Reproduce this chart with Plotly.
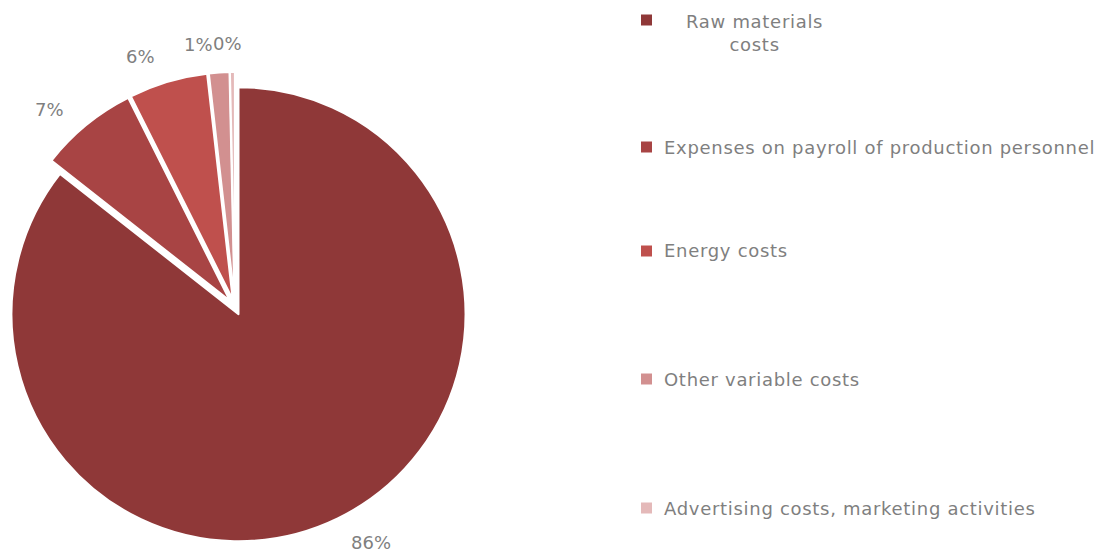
import math
import plotly.graph_objects as go

# ---- data ----
categories = [
    "Raw materials costs",
    "Expenses on payroll of production personnel",
    "Energy costs",
    "Other variable costs",
    "Advertising costs, marketing activities",
]
legend_labels = [
    "Raw materials<br>costs",
    "Expenses on payroll of production personnel",
    "Energy costs",
    "Other variable costs",
    "Advertising costs, marketing activities",
]
shares = [85.6, 7.0, 5.6, 1.45, 0.35]
colors = ["#8F3838", "#A84444", "#BF504D", "#D29090", "#E4B9B9"]

# ---- layout constants ----
W, H = 1111, 558
TEXT_GRAY = "#7f7f7f"
FONT = "DejaVu Sans"
LABEL_SIZE = 18
LEGEND_SIZE = 18
LABEL_GAP = 18            # distance between slice edge and label box
LABEL_ANGLE_SHIFT = -4.0  # degrees, labels sit slightly counter-clockwise


def px_x(x):
    return x / W


def px_y(y):
    return 1 - y / H


# pie box (pixels)
r = 227
explode = 8
pull = explode / r
box = 2 * r * (1 + pull)
cx, cy = box / 2, 307

fig = go.Figure(
    go.Pie(
        labels=categories,
        values=shares,
        sort=False,
        direction="clockwise",
        rotation=0,
        pull=[pull] * len(shares),
        marker=dict(colors=colors, line=dict(color="white", width=2)),
        textinfo="none",
        domain=dict(
            x=[px_x(cx - box / 2), px_x(cx + box / 2)],
            y=[px_y(cy + box / 2), px_y(cy - box / 2)],
        ),
        showlegend=False,
        hoverinfo="label+percent",
    )
)

annotations = []
shapes = []

# ---- percentage labels outside the slices (from the data) ----
total = sum(shares)
labels = []
cum = 0.0
for v in shares:
    mid = (cum + v / 2) / total * 2 * math.pi + math.radians(LABEL_ANGLE_SHIFT)
    cum += v
    txt = f"{round(v / total * 100):.0f}%"
    hw = (11.45 * (len(txt) - 1) + 17.1) / 2
    hh = 10.5
    s, c = math.sin(mid), math.cos(mid)
    dist = r + explode + LABEL_GAP + abs(hw * s) + abs(hh * c)
    labels.append([cx + dist * s, cy - dist * c, 2 * hw, txt])
# keep neighbouring small labels from overlapping
for i in range(1, len(labels)):
    a, b = labels[i - 1], labels[i]
    if abs(a[1] - b[1]) < 20 and a[0] + a[2] / 2 > b[0] - b[2] / 2:
        b[0] = a[0] + a[2] / 2 + b[2] / 2
for x, y, w, txt in labels:
    annotations.append(dict(
        text=txt, xref="paper", yref="paper", x=px_x(x), y=px_y(y),
        xanchor="center", yanchor="middle", showarrow=False,
        font=dict(family=FONT, size=LABEL_SIZE, color=TEXT_GRAY),
    ))

# ---- custom legend (items spread like the original) ----
legend_centers = [20, 147, 251, 379, 508]
for i, (lab, col) in enumerate(zip(legend_labels, colors)):
    yc = legend_centers[i]
    shapes.append(dict(
        type="rect", xref="paper", yref="paper",
        x0=px_x(641), x1=px_x(652), y0=px_y(yc + 5.5), y1=px_y(yc - 5.5),
        fillcolor=col, line=dict(width=0),
    ))
    styled = "<br>".join(
        f"<span style='letter-spacing:0.7px'>{part}</span>" for part in lab.split("<br>")
    )
    if i == 0:
        annotations.append(dict(
            text=styled, xref="paper", yref="paper", x=px_x(754), y=px_y(yc - 11),
            xanchor="center", yanchor="top", align="center", showarrow=False,
            font=dict(family=FONT, size=LEGEND_SIZE, color=TEXT_GRAY),
        ))
    else:
        annotations.append(dict(
            text=styled, xref="paper", yref="paper", x=px_x(662), y=px_y(yc),
            xanchor="left", yanchor="middle", align="left", showarrow=False,
            font=dict(family=FONT, size=LEGEND_SIZE, color=TEXT_GRAY),
        ))

fig.update_layout(
    width=W, height=H,
    margin=dict(l=0, r=0, t=0, b=0, pad=0, autoexpand=False),
    paper_bgcolor="white", plot_bgcolor="white",
    shapes=shapes, annotations=annotations,
    font=dict(family=FONT),
    showlegend=False,
)

fig.write_html("out.html")
